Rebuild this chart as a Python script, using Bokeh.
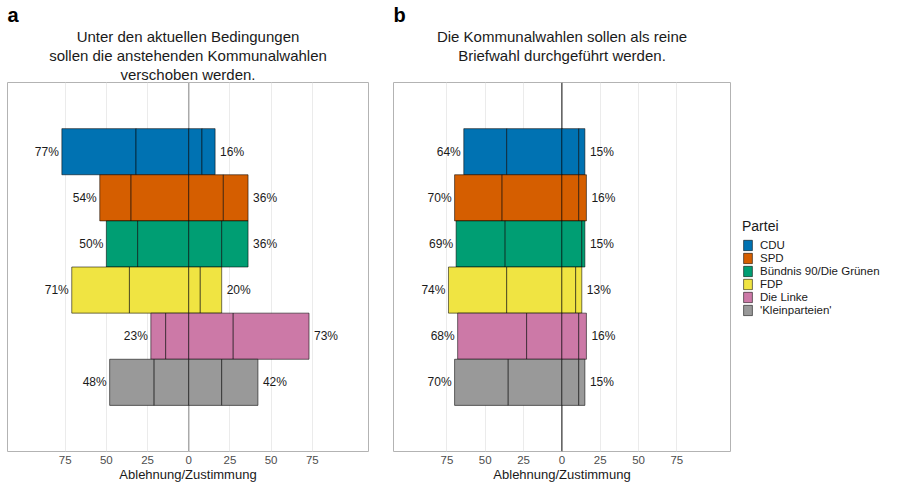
from bokeh.plotting import figure
from bokeh.models import (ColumnDataSource, Range1d, FactorRange, FixedTicker, Span,
                          Title, Legend, LegendItem)
from bokeh.layouts import row
from bokeh.embed import file_html
from bokeh.resources import INLINE
from bokeh.core.properties import value

FONT = "Liberation Sans"

parties = ["CDU", "SPD", "Bündnis 90/Die Grünen", "FDP", "Die Linke", "'Kleinparteien'"]
colors = ["#0072B2", "#D55E00", "#009E73", "#F0E442", "#CC79A7", "#999999"]

# Panel a: "Unter den aktuellen Bedingungen ... verschoben werden."
a_strong_no = [45, 19, 19, 35, 9, 27]
a_no = [32, 35, 31, 36, 14, 21]
a_yes = [8, 21, 20, 7, 27, 20]
a_strong_yes = [8, 15, 16, 13, 46, 22]

# Panel b: "Die Kommunalwahlen sollen als reine Briefwahl durchgeführt werden."
b_strong_no = [28, 31, 32, 38, 45, 35]
b_no = [36, 39, 37, 36, 23, 35]
b_yes = [11, 11, 13, 9, 11, 11]
b_strong_yes = [4, 5, 2, 4, 5, 4]

tick_values = [-75, -50, -25, 0, 25, 50, 75]
tick_labels = ["75", "50", "25", "0", "25", "50", "75"]

title_a = ["Unter den aktuellen Bedingungen",
           "sollen die anstehenden Kommunalwahlen",
           "verschoben werden."]
title_b = ["Die Kommunalwahlen sollen als reine",
           "Briefwahl durchgeführt werden.",
           " "]


def make_panel(letter, title_lines, sn, n, y, sy, frame_width, xr,
               zero_color, zero_width, mb_left, mb_right):
    p = figure(frame_width=frame_width, height=484,
               x_range=Range1d(*xr),
               y_range=FactorRange(factors=parties[::-1], range_padding=2 / 6,
                                   range_padding_units="percent"),
               y_axis_location=None, output_backend="svg", toolbar_location=None,
               title=letter, min_border_left=mb_left, min_border_right=mb_right,
               min_border_top=82, min_border_bottom=0)
    p.title.text_font = FONT
    p.title.text_font_size = "20px"
    p.title.text_font_style = "bold"
    p.title.text_color = "black"
    p.title.align = "left"
    p.title.standoff = 0
    p.title.text_line_height = 0.8

    # titles added later sit further from the frame: add the last line first
    for line in reversed(title_lines):
        t = Title(text=line, align="center", text_font=FONT,
                  text_font_size="15px", text_font_style="normal",
                  text_color="#1a1a1a", text_line_height=0.75, standoff=0)
        p.add_layout(t, "above")

    p.background_fill_color = "white"
    p.border_fill_color = "white"
    p.outline_line_color = "#b3b3b3"
    p.outline_line_width = 1

    ticker = FixedTicker(ticks=tick_values)
    p.xaxis.ticker = ticker
    p.xaxis.major_label_overrides = {v: l for v, l in zip(tick_values, tick_labels)}
    p.xaxis.axis_line_color = None
    p.xaxis.major_tick_line_color = None
    p.xaxis.minor_tick_line_color = None
    p.xaxis.major_tick_out = 0
    p.xaxis.major_tick_in = 0
    p.xaxis.major_label_standoff = 4
    p.xaxis.major_label_text_font = FONT
    p.xaxis.major_label_text_font_size = "11.5px"
    p.xaxis.major_label_text_color = "#4d4d4d"
    p.xaxis.axis_label = "Ablehnung/Zustimmung"
    p.xaxis.axis_label_standoff = 0
    p.xaxis.axis_label_text_font = FONT
    p.xaxis.axis_label_text_font_size = "13px"
    p.xaxis.axis_label_text_font_style = "normal"
    p.xaxis.axis_label_text_color = "#1a1a1a"

    p.xgrid.grid_line_color = "#ebebeb"
    p.xgrid.grid_line_width = 1
    p.ygrid.grid_line_color = None

    p.add_layout(Span(location=0, dimension="height", line_color=zero_color,
                      line_width=zero_width, level="underlay"))

    renderers = []
    for i, party in enumerate(parties):
        src = ColumnDataSource(dict(
            y=[party] * 4,
            left=[-(sn[i] + n[i]), -n[i], 0, y[i]],
            right=[-n[i], 0, y[i], y[i] + sy[i]],
        ))
        r = p.hbar(y="y", left="left", right="right", height=1, source=src,
                   fill_color=colors[i], line_color="black", line_alpha=0.55,
                   line_width=1)
        renderers.append(r)

    lab = ColumnDataSource(dict(
        y=parties,
        lx=[-(a + b) for a, b in zip(sn, n)],
        rx=[a + b for a, b in zip(y, sy)],
        lt=[f"{a + b}%" for a, b in zip(sn, n)],
        rt=[f"{a + b}%" for a, b in zip(y, sy)],
    ))
    p.text(x="lx", y="y", text="lt", source=lab, text_align="right",
           text_baseline="middle", x_offset=-3, text_font=value(FONT),
           text_font_size="12px", text_color="#1a1a1a")
    p.text(x="rx", y="y", text="rt", source=lab, text_align="left",
           text_baseline="middle", x_offset=5, text_font=value(FONT),
           text_font_size="12px", text_color="#1a1a1a")
    return p, renderers


pa, ra = make_panel("a", title_a, a_strong_no, a_no, a_yes, a_strong_yes, 361,
                    (-110.0, 109.1), "#aaaaaa", 1.5, 7, 12)
pb, rb = make_panel("b", title_b, b_strong_no, b_no, b_yes, b_strong_yes, 337,
                    (-109.85, 110.0), "#333333", 1.2, 13, 0)

legend = Legend(items=[LegendItem(label=party, renderers=[r]) for party, r in zip(parties, rb)],
                title="Partei", location="center_left", orientation="vertical")
legend.title_text_font = FONT
legend.title_text_font_size = "14px"
legend.title_text_font_style = "normal"
legend.title_text_color = "#1a1a1a"
legend.title_standoff = 5
legend.label_text_font = FONT
legend.label_text_font_size = "11.5px"
legend.label_text_color = "#1a1a1a"
legend.label_standoff = 7
legend.label_height = 13
legend.glyph_width = 11
legend.glyph_height = 13
legend.spacing = 0
legend.padding = 0
legend.margin = 12
legend.border_line_color = None
legend.background_fill_alpha = 0
pb.add_layout(legend, "right")

layout = row(pa, pb)
open("out.html", "w").write(file_html(layout, INLINE))
